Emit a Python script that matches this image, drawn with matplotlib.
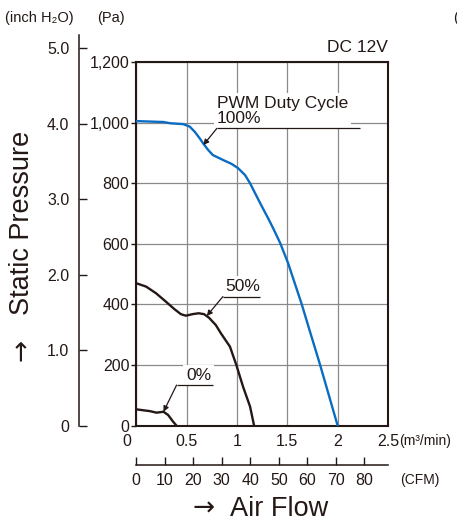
import matplotlib
matplotlib.use('Agg')
import matplotlib.pyplot as plt
import matplotlib.transforms as mtransforms

plt.rcParams['font.family'] = ['Liberation Sans', 'DejaVu Sans']

INK = '#231815'
BLUE = '#0a6cc2'
GRID = '#8a8a8a'

# fan curves, air flow (m3/min) vs static pressure (Pa)
flow_100 = [0, 0.27, 0.335, 0.465, 0.53, 0.58, 0.63, 0.663, 0.713, 0.76, 0.86,
            0.945, 1.01, 1.08, 1.13, 1.18, 1.24, 1.31, 1.36, 1.43, 1.508,
            1.57, 1.64, 1.73, 1.82, 2.0]
pres_100 = [1005, 1002, 998, 995, 987, 970, 948, 932, 910, 893, 877,
            864, 850, 827, 800, 767, 728, 684, 651, 602, 536,
            474, 404, 305, 207, 0]

flow_50 = [0, 0.097, 0.196, 0.295, 0.377, 0.443, 0.492, 0.558, 0.62, 0.673,
           0.723, 0.79, 0.84, 0.93, 0.994, 1.06, 1.13, 1.17]
pres_50 = [470, 459, 437, 409, 385, 368, 363, 368, 371, 368,
           356, 332, 305, 261, 200, 129, 63, 0]

flow_0 = [0, 0.136, 0.2, 0.27, 0.317, 0.366, 0.4]
pres_0 = [54, 48, 43, 46, 35, 13, 0]

pa_ticks = [0, 200, 400, 600, 800, 1000, 1200]
pa_labels = ['0', '200', '400', '600', '800', '1,000', '1,200']
inch_ticks = [0, 1, 2, 3, 4, 5]
inch_labels = ['0', '1.0', '2.0', '3.0', '4.0', '5.0']
flow_ticks = [0, 0.5, 1, 1.5, 2, 2.5]
flow_labels = ['0', '0.5', '1', '1.5', '2', '2.5']
cfm_ticks = [0, 10, 20, 30, 40, 50, 60, 70, 80]

PA_PER_INCH = 249.09
CFM_PER_M3MIN = 35.3147

W, H = 457, 522
fig = plt.figure(figsize=(W / 100, H / 100), dpi=100)


def fx(px):
    return px / W


def fy(py):
    return 1 - py / H


left, right, top, bottom = 136.3, 388, 62, 425.7

# main chart
ax = fig.add_axes([fx(left), fy(bottom), fx(right) - fx(left), fy(top) - fy(bottom)])
ax.set_xlim(0, 2.5)
ax.set_ylim(0, 1200)
ax.set_xticks(flow_ticks)
ax.set_xticklabels(flow_labels)
ax.set_yticks(pa_ticks)
ax.set_yticklabels(pa_labels)
ax.grid(True, color=GRID, lw=0.9)
ax.set_axisbelow(True)
for s in ax.spines.values():
    s.set_linewidth(1.5)
    s.set_color(INK)
ax.tick_params(axis='y', direction='out', length=3.5, width=1, pad=1.5,
               labelsize=11.5, colors=INK)
ax.tick_params(axis='x', length=0, pad=6, labelsize=11.5, colors=INK)
# the "0" flow label sits a little left of the corner
lab0 = ax.get_xticklabels()[0]
lab0.set_transform(lab0.get_transform() +
                   mtransforms.ScaledTranslation(-0.09, 0, fig.dpi_scale_trans))

ax.plot(flow_100, pres_100, color=BLUE, lw=1.7, zorder=4, solid_joinstyle='round')
ax.plot(flow_50, pres_50, color=INK, lw=1.7, zorder=4, solid_joinstyle='round')
ax.plot(flow_0, pres_0, color=INK, lw=1.7, zorder=4, solid_joinstyle='round')


def leader(text, x0, x1, y, tip, tx, size=12.5):
    ax.text(tx, y + 8, text, fontsize=size, color=INK, ha='left', va='bottom',
            zorder=3, linespacing=1.0,
            bbox=dict(fc='white', ec='none', pad=2))
    ax.plot([x0, x1], [y, y], color=INK, lw=0.9, zorder=5, solid_capstyle='butt')
    ax.annotate('', xy=tip, xytext=(x0, y), zorder=5,
                arrowprops=dict(arrowstyle='-|>', color=INK, lw=0.9,
                                mutation_scale=8, shrinkA=0, shrinkB=0))


leader('PWM Duty Cycle\n100%', 0.80, 2.22, 981, (0.666, 926), 0.80)
leader('50%', 0.86, 1.23, 426, (0.70, 362), 0.88)
leader('0%', 0.40, 0.76, 134, (0.27, 46), 0.495)

# inch H2O axis on the far left
in_top = 35
axin = fig.add_axes([fx(79), fy(bottom), 0.0001, fy(in_top) - fy(bottom)])
axin.set_ylim(0, 1200 / PA_PER_INCH * (bottom - in_top) / (bottom - top))
axin.set_yticks(inch_ticks)
axin.set_yticklabels(inch_labels)
axin.set_xticks([])
axin.patch.set_visible(False)
for k in ['top', 'right', 'bottom']:
    axin.spines[k].set_visible(False)
axin.spines['left'].set_color(INK)
axin.spines['left'].set_linewidth(1.1)
axin.tick_params(axis='y', direction='in', length=5.5, width=1, pad=7,
                 labelsize=11.5, colors=INK)

# CFM scale under the chart
axc = fig.add_axes([fx(left), fy(465), fx(right) - fx(left), 0.0001])
axc.set_xlim(0, 2.5 * CFM_PER_M3MIN)
axc.set_xticks(cfm_ticks)
axc.set_yticks([])
axc.patch.set_visible(False)
for k in ['top', 'right', 'left']:
    axc.spines[k].set_visible(False)
axc.spines['bottom'].set_color(INK)
axc.spines['bottom'].set_linewidth(1.1)
axc.tick_params(axis='x', direction='in', length=6, width=1, pad=6,
                labelsize=11.5, colors=INK)

# unit labels and titles
fig.text(fx(5), fy(18), '(inch H₂O)', fontsize=10.5, color=INK, va='center')
fig.text(fx(97), fy(18), '(Pa)', fontsize=10.5, color=INK, va='center')
fig.text(fx(453), fy(18), '(', fontsize=10.5, color=INK, va='center', ha='left')
fig.text(fx(388), fy(47), 'DC 12V', fontsize=12.5, color=INK, va='center', ha='right')
fig.text(fx(399), fy(441), '(m³/min)', fontsize=10, color=INK, va='center')
fig.text(fx(400), fy(480), '(CFM)', fontsize=10, color=INK, va='center')

# axis titles, arrows drawn in DejaVu for a full-size glyph
fig.text(fx(204), fy(509), '→', fontsize=19, color=INK, va='center', ha='center',
         family='DejaVu Sans')
fig.text(fx(230), fy(509), 'Air Flow', fontsize=19.5, color=INK,
         va='center', ha='left')
fig.text(fx(22), fy(350), '→', fontsize=19, color=INK, va='center', ha='center',
         rotation=90, family='DejaVu Sans')
fig.text(fx(22), fy(315), 'Static Pressure', fontsize=19.5, color=INK,
         va='bottom', ha='center', rotation=90)

fig.savefig('out.png', dpi=100)
